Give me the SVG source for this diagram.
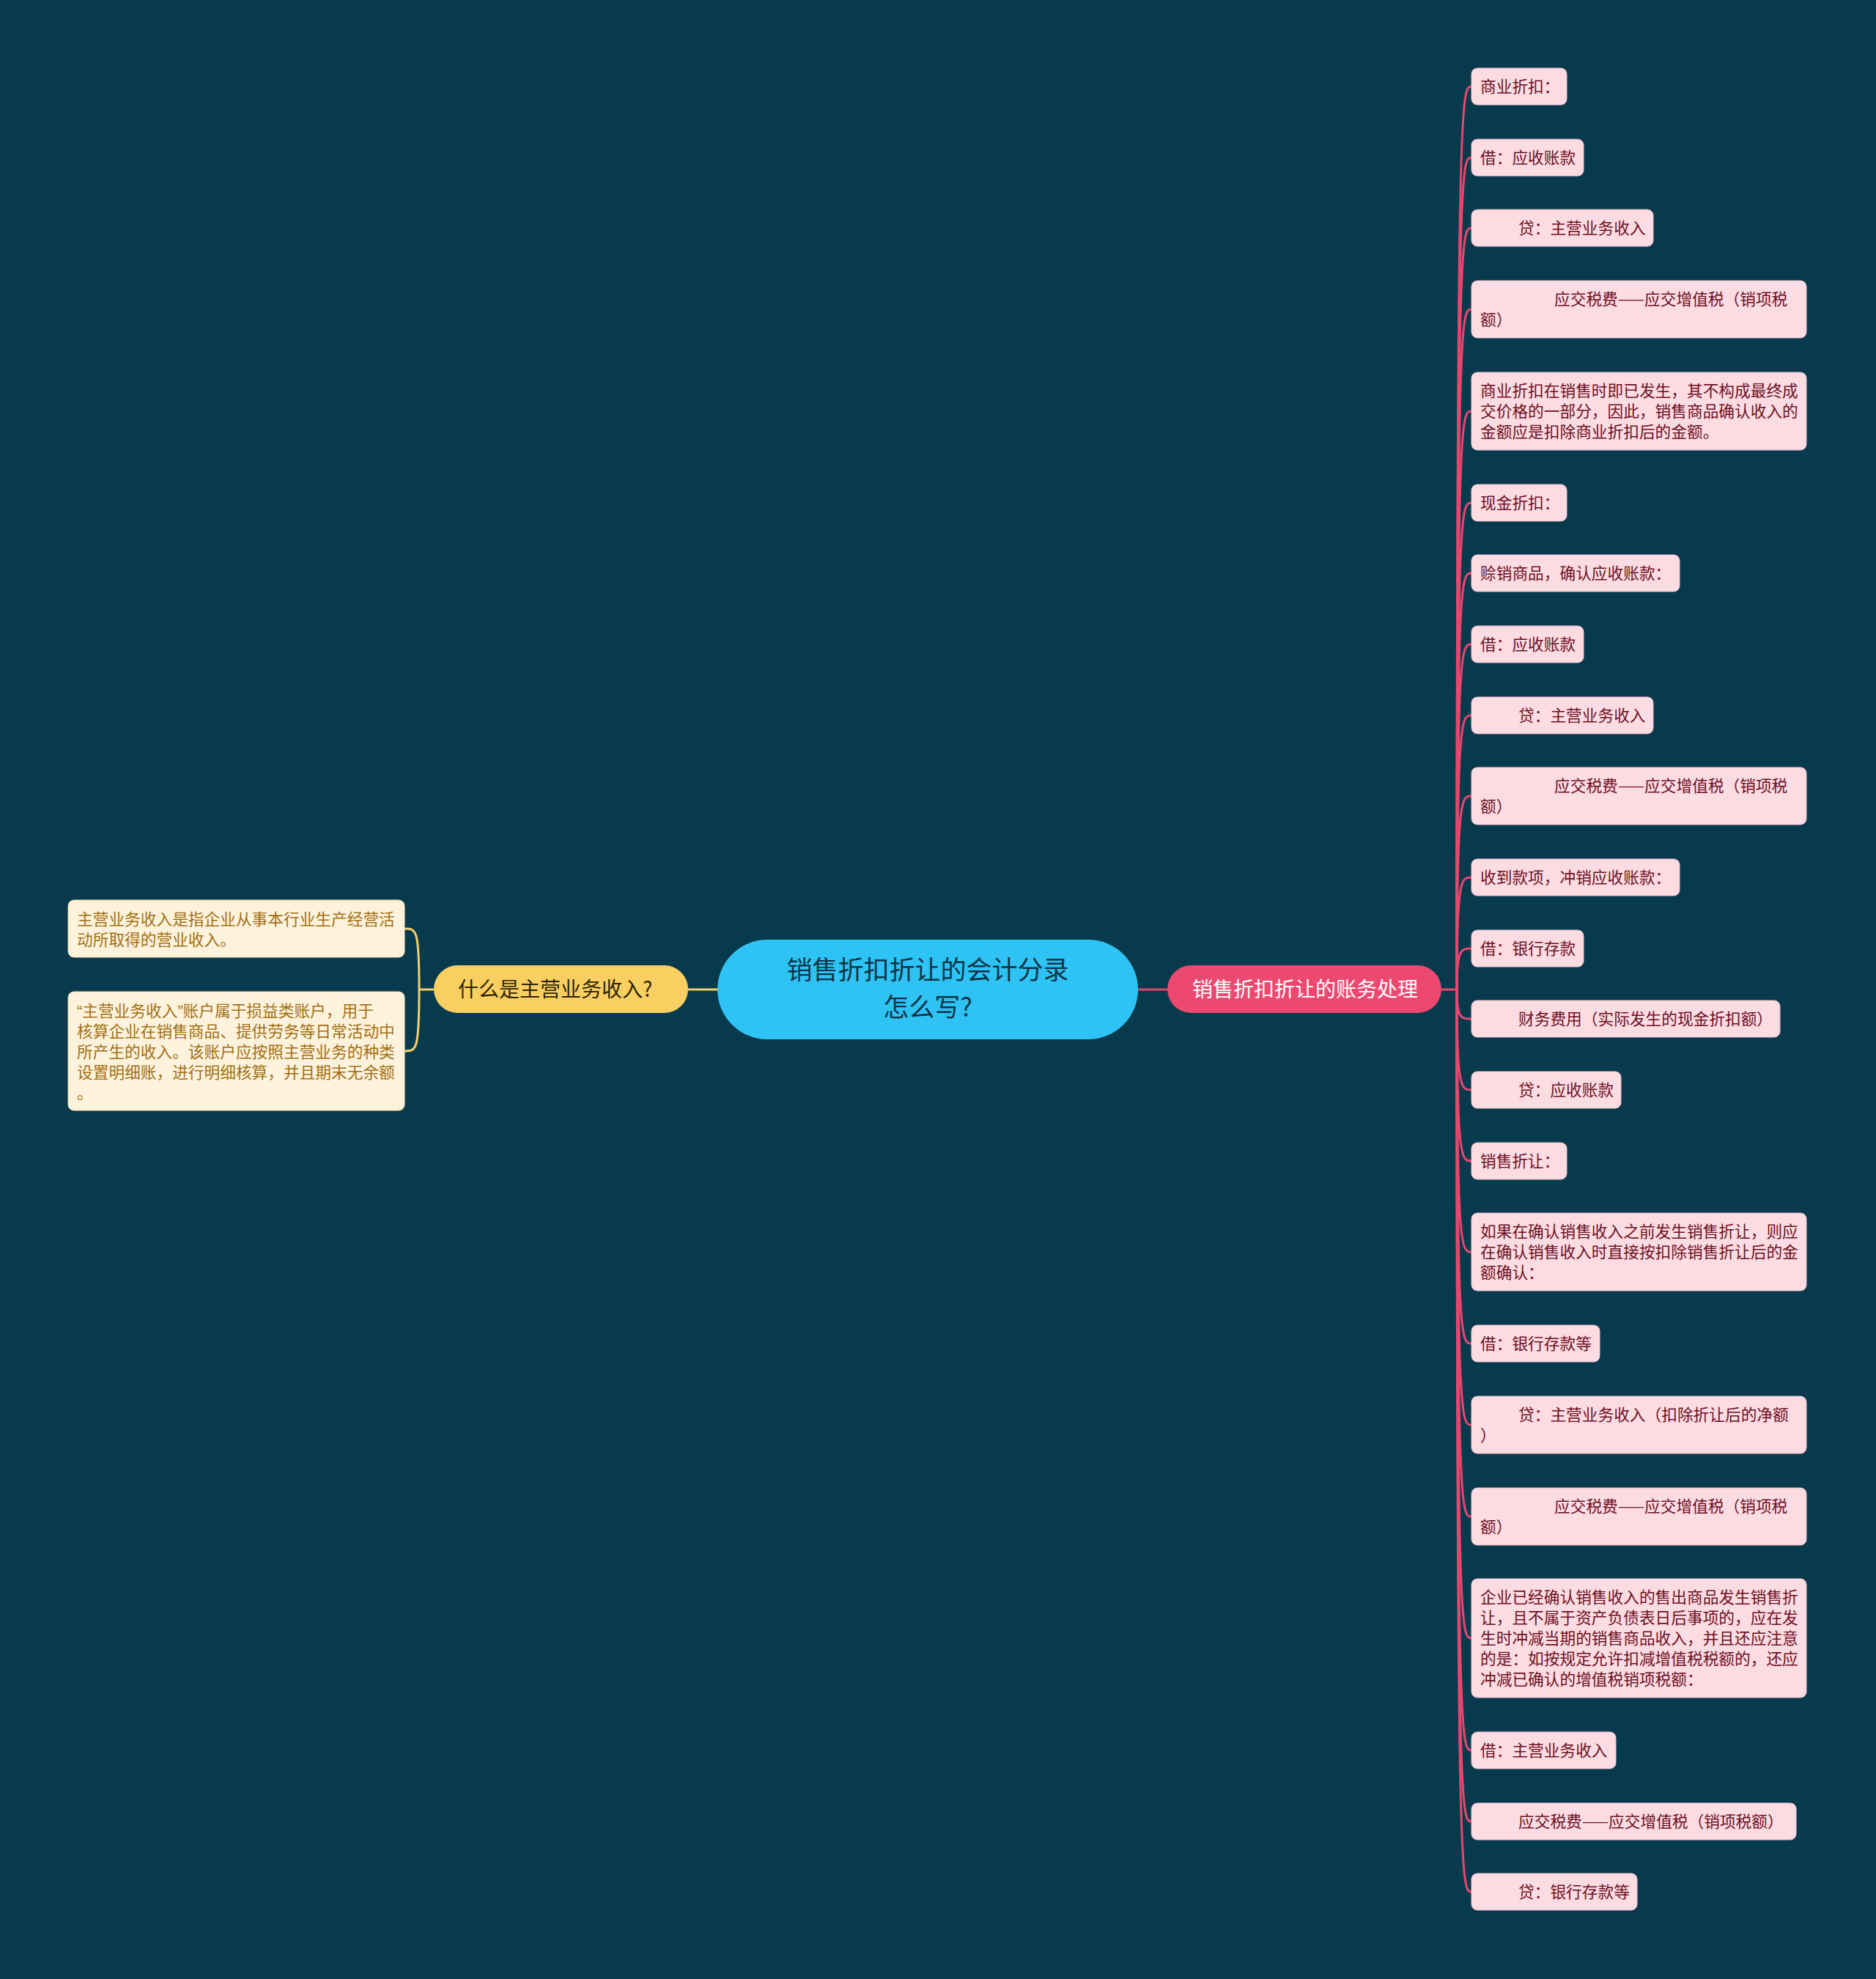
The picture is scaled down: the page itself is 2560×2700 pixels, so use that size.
<svg xmlns="http://www.w3.org/2000/svg" width="2560" height="2700" viewBox="0 0 2560 2700">
<style>
text{font-family:"Noto Sans CJK SC","Noto Sans",sans-serif;}
.leaf{fill:#fcdce3;stroke:#f3c3cf;stroke-width:1}
.lt{font-size:21.7px;fill:#6e0f22}
.yleaf{fill:#fdf3dd;stroke:#f1e0b5;stroke-width:1}
.yt{font-size:21.7px;fill:#a26f12}
.q{font-family:"Liberation Sans",sans-serif}
.pc{fill:none;stroke:#e6476f;stroke-width:3}
.yc{fill:none;stroke:#f3d06a;stroke-width:3}
</style>
<rect width="2560" height="2700" fill="#083a4d"/>
<g id="connectors">
<path class="yc" d="M939,1350 H979"/>
<path class="pc" d="M1553,1350 H1593"/>
<path class="yc" d="M592,1350 H572"/>
<path class="yc" d="M572,1350 C572,1267 568,1267 552,1267"/>
<path class="yc" d="M572,1350 C572,1434 568,1434 552,1434"/>
<path class="pc" d="M1967,1350 H1988"/>
<path class="pc" d="M1988,1350 C1988,118 1994,118 2008,118"/>
<path class="pc" d="M1988,1350 C1988,215 1994,215 2008,215"/>
<path class="pc" d="M1988,1350 C1988,311 1994,311 2008,311"/>
<path class="pc" d="M1988,1350 C1988,422 1994,422 2008,422"/>
<path class="pc" d="M1988,1350 C1988,561 1994,561 2008,561"/>
<path class="pc" d="M1988,1350 C1988,686 1994,686 2008,686"/>
<path class="pc" d="M1988,1350 C1988,782 1994,782 2008,782"/>
<path class="pc" d="M1988,1350 C1988,879 1994,879 2008,879"/>
<path class="pc" d="M1988,1350 C1988,976 1994,976 2008,976"/>
<path class="pc" d="M1988,1350 C1988,1086 1994,1086 2008,1086"/>
<path class="pc" d="M1988,1350 C1988,1197 1994,1197 2008,1197"/>
<path class="pc" d="M1988,1350 C1988,1294 1994,1294 2008,1294"/>
<path class="pc" d="M1988,1350 C1988,1390 1994,1390 2008,1390"/>
<path class="pc" d="M1988,1350 C1988,1487 1994,1487 2008,1487"/>
<path class="pc" d="M1988,1350 C1988,1584 1994,1584 2008,1584"/>
<path class="pc" d="M1988,1350 C1988,1708 1994,1708 2008,1708"/>
<path class="pc" d="M1988,1350 C1988,1833 1994,1833 2008,1833"/>
<path class="pc" d="M1988,1350 C1988,1944 1994,1944 2008,1944"/>
<path class="pc" d="M1988,1350 C1988,2069 1994,2069 2008,2069"/>
<path class="pc" d="M1988,1350 C1988,2235 1994,2235 2008,2235"/>
<path class="pc" d="M1988,1350 C1988,2388 1994,2388 2008,2388"/>
<path class="pc" d="M1988,1350 C1988,2485 1994,2485 2008,2485"/>
<path class="pc" d="M1988,1350 C1988,2581 1994,2581 2008,2581"/>
</g>
<g id="center">
<rect x="979" y="1282" width="574" height="136" rx="68" fill="#2ec3f4"/>
<text x="1266" y="1336" font-size="35" fill="#0c3445" text-anchor="middle">销售折扣折让的会计分录</text>
<text x="1266" y="1387" font-size="35" fill="#0c3445" text-anchor="middle">怎么写?</text>
</g>
<g id="branch-left">
<rect x="592" y="1317" width="347" height="65" rx="32.5" fill="#f9cf61"/>
<text x="625" y="1360" font-size="28" fill="#2d2408">什么是主营业务收入?</text>
</g>
<g id="branch-right">
<rect x="1593" y="1317" width="374" height="65" rx="32.5" fill="#ec4870"/>
<text x="1627" y="1360" font-size="28" fill="#ffffff">销售折扣折让的账务处理</text>
</g>
<g id="left-leaf-1">
<rect class="yleaf" x="93" y="1228" width="459" height="78" rx="8"/>
<text class="yt" x="105" y="1262">主营业务收入是指企业从事本行业生产经营活</text>
<text class="yt" x="105" y="1290">动所取得的营业收入。</text>
</g>
<g id="left-leaf-2">
<rect class="yleaf" x="93" y="1353" width="459" height="162" rx="8"/>
<text class="yt" x="105" y="1387"><tspan class="q">“</tspan>主营业务收入<tspan class="q">”</tspan>账户属于损益类账户，用于</text>
<text class="yt" x="105" y="1415">核算企业在销售商品、提供劳务等日常活动中</text>
<text class="yt" x="105" y="1443">所产生的收入。该账户应按照主营业务的种类</text>
<text class="yt" x="105" y="1471">设置明细账，进行明细核算，并且期末无余额</text>
<text class="yt" x="105" y="1499">。</text>
</g>
<g id="r1"><rect class="leaf" x="2008" y="93" width="130" height="50" rx="8"/><text class="lt" x="2020" y="126">商业折扣：</text></g>
<g id="r2"><rect class="leaf" x="2008" y="190" width="153" height="50" rx="8"/><text class="lt" x="2020" y="223">借：应收账款</text></g>
<g id="r3"><rect class="leaf" x="2008" y="286" width="248" height="50" rx="8"/><text class="lt" x="2072" y="319">贷：主营业务收入</text></g>
<g id="r4"><rect class="leaf" x="2008" y="383" width="457" height="78" rx="8"/><text class="lt" x="2121" y="416">应交税费——应交增值税（销项税</text><text class="lt" x="2020" y="444">额）</text></g>
<g id="r5"><rect class="leaf" x="2008" y="508" width="457" height="106" rx="8"/><text class="lt" x="2020" y="541">商业折扣在销售时即已发生，其不构成最终成</text><text class="lt" x="2020" y="569">交价格的一部分，因此，销售商品确认收入的</text><text class="lt" x="2020" y="597">金额应是扣除商业折扣后的金额。</text></g>
<g id="r6"><rect class="leaf" x="2008" y="661" width="130" height="50" rx="8"/><text class="lt" x="2020" y="694">现金折扣：</text></g>
<g id="r7"><rect class="leaf" x="2008" y="757" width="284" height="50" rx="8"/><text class="lt" x="2020" y="790">赊销商品，确认应收账款：</text></g>
<g id="r8"><rect class="leaf" x="2008" y="854" width="153" height="50" rx="8"/><text class="lt" x="2020" y="887">借：应收账款</text></g>
<g id="r9"><rect class="leaf" x="2008" y="951" width="248" height="50" rx="8"/><text class="lt" x="2072" y="984">贷：主营业务收入</text></g>
<g id="r10"><rect class="leaf" x="2008" y="1047" width="457" height="78" rx="8"/><text class="lt" x="2121" y="1080">应交税费——应交增值税（销项税</text><text class="lt" x="2020" y="1108">额）</text></g>
<g id="r11"><rect class="leaf" x="2008" y="1172" width="284" height="50" rx="8"/><text class="lt" x="2020" y="1205">收到款项，冲销应收账款：</text></g>
<g id="r12"><rect class="leaf" x="2008" y="1269" width="153" height="50" rx="8"/><text class="lt" x="2020" y="1302">借：银行存款</text></g>
<g id="r13"><rect class="leaf" x="2008" y="1365" width="421" height="50" rx="8"/><text class="lt" x="2072" y="1398">财务费用（实际发生的现金折扣额）</text></g>
<g id="r14"><rect class="leaf" x="2008" y="1462" width="204" height="50" rx="8"/><text class="lt" x="2072" y="1495">贷：应收账款</text></g>
<g id="r15"><rect class="leaf" x="2008" y="1559" width="130" height="50" rx="8"/><text class="lt" x="2020" y="1592">销售折让：</text></g>
<g id="r16"><rect class="leaf" x="2008" y="1655" width="457" height="106" rx="8"/><text class="lt" x="2020" y="1688">如果在确认销售收入之前发生销售折让，则应</text><text class="lt" x="2020" y="1716">在确认销售收入时直接按扣除销售折让后的金</text><text class="lt" x="2020" y="1744">额确认：</text></g>
<g id="r17"><rect class="leaf" x="2008" y="1808" width="175" height="50" rx="8"/><text class="lt" x="2020" y="1841">借：银行存款等</text></g>
<g id="r18"><rect class="leaf" x="2008" y="1905" width="457" height="78" rx="8"/><text class="lt" x="2072" y="1938">贷：主营业务收入（扣除折让后的净额</text><text class="lt" x="2020" y="1966">）</text></g>
<g id="r19"><rect class="leaf" x="2008" y="2030" width="457" height="78" rx="8"/><text class="lt" x="2121" y="2063">应交税费——应交增值税（销项税</text><text class="lt" x="2020" y="2091">额）</text></g>
<g id="r20"><rect class="leaf" x="2008" y="2154" width="457" height="162" rx="8"/><text class="lt" x="2020" y="2187">企业已经确认销售收入的售出商品发生销售折</text><text class="lt" x="2020" y="2215">让，且不属于资产负债表日后事项的，应在发</text><text class="lt" x="2020" y="2243">生时冲减当期的销售商品收入，并且还应注意</text><text class="lt" x="2020" y="2271">的是：如按规定允许扣减增值税税额的，还应</text><text class="lt" x="2020" y="2299">冲减已确认的增值税销项税额：</text></g>
<g id="r21"><rect class="leaf" x="2008" y="2363" width="197" height="50" rx="8"/><text class="lt" x="2020" y="2396">借：主营业务收入</text></g>
<g id="r22"><rect class="leaf" x="2008" y="2460" width="443" height="50" rx="8"/><text class="lt" x="2072" y="2493">应交税费——应交增值税（销项税额）</text></g>
<g id="r23"><rect class="leaf" x="2008" y="2556" width="226" height="50" rx="8"/><text class="lt" x="2072" y="2589">贷：银行存款等</text></g>
</svg>
